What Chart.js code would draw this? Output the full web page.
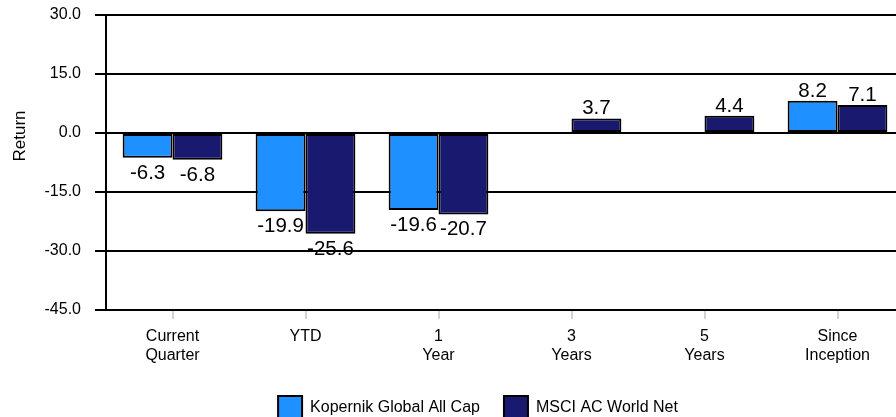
<!DOCTYPE html>
<html>
<head>
<meta charset="utf-8">
<script src="https://cdn.jsdelivr.net/npm/chart.js@4"></script>
<style>
  html, body { margin: 0; padding: 0; overflow: hidden; background: #fff; }
  #wrap { position: absolute; left: 0; top: 0; width: 960px; height: 430px; }
</style>
</head>
<body>
<div id="wrap"><canvas id="returnsChart" width="960" height="430"></canvas></div>
<script>
// Periods shown along the x axis
const periods = [["Current", "Quarter"], "YTD", ["1", "Year"], ["3", "Years"], ["5", "Years"], ["Since", "Inception"]];

// Returns (%) per period
const kopernikReturns = [-6.3, -19.9, -19.6, null, null, 8.2];
const msciReturns = [-6.8, -25.6, -20.7, 3.7, 4.4, 7.1];

// Y axis range and step
const yMin = -45;
const yMax = 30;
const yStep = 15;

const FONT = "'Liberation Sans', Arial, Helvetica, sans-serif";

// Writes the value next to the end of each bar
const valueLabels = {
  id: "valueLabels",
  afterDatasetsDraw(chart) {
    const ctx = chart.ctx;
    ctx.save();
    ctx.font = "20.5px " + FONT;
    ctx.fillStyle = "#000";
    ctx.textAlign = "center";
    ctx.textBaseline = "alphabetic";
    chart.data.datasets.forEach((ds, i) => {
      const meta = chart.getDatasetMeta(i);
      meta.data.forEach((bar, j) => {
        const v = ds.data[j];
        if (v === null || v === undefined) return;
        const y = v >= 0 ? bar.y - 4 : bar.y + 21;
        ctx.fillText(v.toFixed(1), bar.x, y);
      });
    });
    ctx.restore();
  }
};

// Rotated y axis title
const axisTitle = {
  id: "axisTitle",
  afterDraw(chart) {
    const ctx = chart.ctx;
    ctx.save();
    ctx.translate(20, 136);
    ctx.rotate(-Math.PI / 2);
    ctx.font = "17px " + FONT;
    ctx.fillStyle = "#000";
    ctx.textAlign = "center";
    ctx.textBaseline = "middle";
    ctx.fillText("Return", 0, 0);
    ctx.restore();
  }
};

const chart = new Chart(document.getElementById("returnsChart"), {
  type: "bar",
  data: {
    labels: periods,
    datasets: [
      {
        label: "Kopernik Global All Cap",
        data: kopernikReturns,
        backgroundColor: "#1E90FF",
        borderColor: "#000",
        borderWidth: 2,
        borderSkipped: false
      },
      {
        label: "MSCI AC World Net",
        data: msciReturns,
        backgroundColor: "#191970",
        borderColor: "#000",
        borderWidth: 2,
        borderSkipped: false
      }
    ]
  },
  options: {
    responsive: false,
    animation: false,
    devicePixelRatio: 1,
    categoryPercentage: 0.75,
    barPercentage: 1.0,
    layout: { padding: { left: 0, right: 4, top: 15, bottom: 0 } },
    plugins: {
      tooltip: { enabled: false },
      legend: {
        position: "bottom",
        labels: {
          boxWidth: 24,
          boxHeight: 24,
          padding: 24,
          color: "#000",
          font: { family: FONT, size: 16 }
        }
      }
    },
    scales: {
      x: {
        afterFit(scale) { scale.height = 62; },
        grid: {
          display: true,
          drawOnChartArea: false,
          offset: false,
          color: "#d3d3d3",
          lineWidth: 2,
          tickLength: 9
        },
        border: { color: "#000", width: 2 },
        ticks: {
          color: "#000",
          padding: 8,
          maxRotation: 0,
          autoSkip: false,
          font: { family: FONT, size: 16, lineHeight: 1.2 }
        }
      },
      y: {
        min: yMin,
        max: yMax,
        afterFit(scale) {
          scale.width = 106;
          // label overhang fits inside the layout padding
          scale.paddingTop = 0;
          scale.paddingBottom = 0;
        },
        grid: {
          color: "#000",
          lineWidth: 2,
          tickLength: 11
        },
        border: { color: "#000", width: 2 },
        ticks: {
          stepSize: yStep,
          color: "#000",
          padding: 14,
          font: { family: FONT, size: 16 },
          callback: (v) => v.toFixed(1)
        }
      },
      // empty spacer on the right so the legend sits left of the plot centre
      spacer: {
        type: "linear",
        position: "right",
        display: true,
        afterFit(scale) {
          scale.width = 52;
          scale.paddingTop = 0;
          scale.paddingBottom = 0;
        },
        grid: { display: false },
        border: { display: false },
        ticks: { display: false }
      }
    }
  },
  plugins: [valueLabels, axisTitle]
});
</script>
</body>
</html>
